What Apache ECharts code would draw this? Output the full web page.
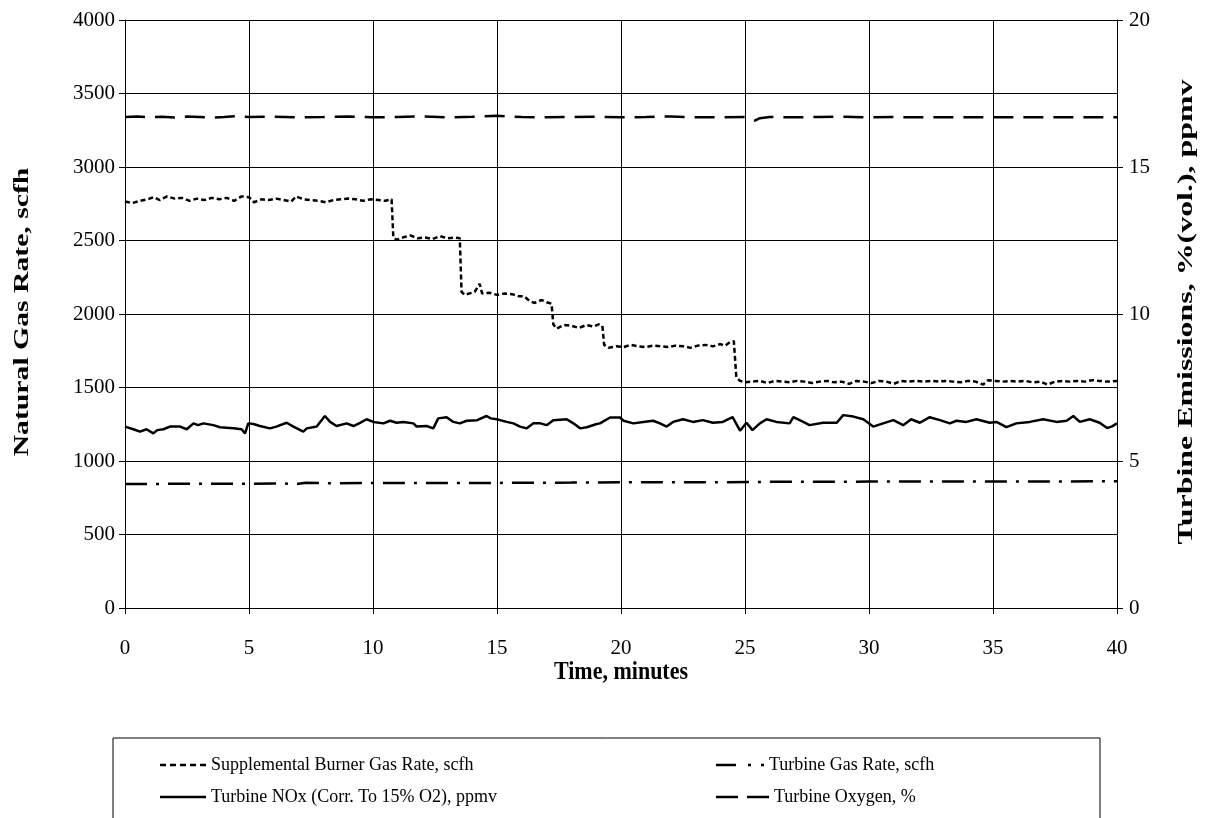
<!DOCTYPE html>
<html>
<head>
<meta charset="utf-8">
<script src="https://cdn.jsdelivr.net/npm/echarts@6/dist/echarts.min.js"></script>
<style>
  html, body { margin: 0; padding: 0; background: #fff; }
  #chart1 { width: 1206px; height: 818px; }
</style>
</head>
<body>
<div id="chart1"></div>
<script>
// series names
var names = [
    "Supplemental Burner Gas Rate, scfh",
    "Turbine Gas Rate, scfh",
    "Turbine NOx (Corr. To 15% O2), ppmv",
    "Turbine Oxygen, %"
]

// supplemental burner gas rate, scfh (left axis)
var burnerTime = [0, 0.3, 0.6, 0.9, 1.15, 1.4, 1.7, 2.0, 2.3, 2.6, 2.9, 3.2, 3.5, 3.8, 4.1, 4.4, 4.7, 5.0, 5.2, 5.5,
    5.8, 6.1, 6.4, 6.7, 6.9, 7.2, 7.5, 7.8, 8.1, 8.4, 8.7, 9.0, 9.3, 9.6, 9.9, 10.2, 10.5, 10.75,
    10.82, 10.95, 11.2, 11.5, 11.8, 12.1, 12.4, 12.7, 13.0, 13.3, 13.5,
    13.57, 13.7, 13.9, 14.1, 14.3, 14.4, 14.7, 15.0, 15.3, 15.6, 15.9, 16.1, 16.3, 16.5, 16.8, 17.0, 17.2,
    17.27, 17.4, 17.7, 18.0, 18.3, 18.6, 18.9, 19.1, 19.25,
    19.32, 19.5, 19.8, 20.1, 20.4, 20.7, 21.0, 21.3, 21.6, 21.9, 22.2, 22.5, 22.8, 23.1, 23.4, 23.7, 24.0, 24.2, 24.4, 24.55,
    24.65, 24.8, 25.0, 25.3, 25.6, 25.9, 26.2, 26.5, 26.8, 27.1, 27.4, 27.7, 28.0, 28.3, 28.6, 28.9, 29.2, 29.5, 29.8,
    30.1, 30.4, 30.7, 31.0, 31.3, 31.6, 31.9, 32.2, 32.5, 32.8, 33.1, 33.4, 33.7, 34.0, 34.3, 34.6, 34.8, 35.1, 35.4,
    35.7, 36.0, 36.3, 36.6, 36.9, 37.2, 37.5, 37.8, 38.1, 38.4, 38.7, 39.0, 39.3, 39.6, 40]
var burnerRate = [2765, 2755, 2770, 2780, 2795, 2775, 2800, 2785, 2790, 2770, 2785, 2775, 2790, 2780, 2790, 2770, 2800, 2795, 2760, 2780,
    2775, 2785, 2775, 2765, 2800, 2780, 2775, 2770, 2760, 2775, 2780, 2785, 2780, 2770, 2780, 2775, 2770, 2780,
    2520, 2505, 2520, 2535, 2515, 2520, 2510, 2530, 2515, 2520, 2515,
    2150, 2130, 2140, 2150, 2205, 2140, 2145, 2130, 2140, 2135, 2120, 2120, 2090, 2075, 2095, 2080, 2070,
    1930, 1900, 1925, 1920, 1905, 1925, 1915, 1930, 1920,
    1790, 1770, 1780, 1775, 1790, 1780, 1775, 1785, 1780, 1775, 1785, 1780, 1770, 1785, 1790, 1780, 1795, 1785, 1810, 1815,
    1570, 1545, 1535, 1540, 1545, 1530, 1545, 1540, 1535, 1545, 1540, 1530, 1540, 1545, 1535, 1540, 1525, 1545, 1540,
    1530, 1545, 1540, 1525, 1545, 1540, 1545, 1540, 1545, 1540, 1545, 1540, 1535, 1545, 1540, 1520, 1550, 1545, 1540,
    1545, 1540, 1545, 1535, 1540, 1520, 1540, 1545, 1540, 1545, 1540, 1550, 1545, 1540, 1545]

// turbine gas rate, scfh (left axis)
var turbineTime = [0, 2, 4, 5, 6, 7, 7.3, 8, 10, 12, 14, 16, 18, 20, 22, 24, 26, 28, 30, 32, 34, 36, 38, 40]
var turbineRate = [843, 845, 846, 845, 847, 845, 852, 849, 850, 851, 850, 852, 853, 855, 856, 856, 858, 858, 860, 860, 861, 860, 861, 862]

// turbine NOx, ppmv (right axis)
var noxTime = [0, 0.34, 0.6, 0.87, 1.14, 1.3, 1.55, 1.81, 2.22, 2.49, 2.76, 2.95, 3.16, 3.56, 3.83, 4.37, 4.7, 4.84, 4.97,
    5.18, 5.44, 5.85, 6.1, 6.52, 6.79, 7.19, 7.33, 7.73, 8.06, 8.27, 8.53, 8.94, 9.21, 9.48, 9.74, 10.01, 10.42,
    10.69, 10.95, 11.22, 11.63, 11.76, 12.16, 12.43, 12.63, 12.97, 13.24, 13.5, 13.78, 14.2, 14.58, 14.75, 14.99,
    15.39, 15.66, 15.93, 16.2, 16.47, 16.75, 17.0, 17.27, 17.81, 18.08, 18.35, 18.62, 19.02, 19.15, 19.56, 19.96,
    20.1, 20.5, 20.9, 21.3, 21.57, 21.84, 22.1, 22.5, 22.9, 23.3, 23.7, 24.1, 24.5, 24.8, 25.06, 25.3, 25.6, 25.87,
    26.27, 26.8, 26.95, 27.35, 27.6, 28.15, 28.7, 28.96, 29.37, 29.77, 30.17, 30.57, 30.98, 31.38, 31.7, 32.05,
    32.45, 32.86, 33.26, 33.53, 33.93, 34.33, 34.87, 35.14, 35.54, 35.94, 36.48, 37.02, 37.56, 37.97, 38.24, 38.5,
    38.9, 39.3, 39.6, 39.8, 40]
var noxPpmv = [6.17, 6.08, 6.0, 6.08, 5.94, 6.05, 6.08, 6.17, 6.17, 6.08, 6.28, 6.22, 6.28, 6.22, 6.15, 6.11, 6.08, 5.94, 6.28,
    6.26, 6.19, 6.11, 6.17, 6.30, 6.17, 6.00, 6.11, 6.17, 6.53, 6.33, 6.19, 6.28, 6.19, 6.30, 6.42, 6.33, 6.28,
    6.37, 6.30, 6.33, 6.28, 6.17, 6.19, 6.11, 6.45, 6.49, 6.33, 6.28, 6.37, 6.39, 6.53, 6.45, 6.42,
    6.33, 6.28, 6.17, 6.11, 6.28, 6.28, 6.22, 6.39, 6.42, 6.28, 6.11, 6.15, 6.26, 6.28, 6.48, 6.48,
    6.37, 6.28, 6.33, 6.37, 6.28, 6.17, 6.33, 6.42, 6.33, 6.39, 6.30, 6.33, 6.49, 6.03, 6.30, 6.05, 6.28, 6.42,
    6.33, 6.28, 6.49, 6.33, 6.22, 6.30, 6.30, 6.56, 6.51, 6.42, 6.17, 6.28, 6.39, 6.22, 6.42, 6.30,
    6.49, 6.39, 6.28, 6.37, 6.33, 6.42, 6.30, 6.33, 6.15, 6.28, 6.33, 6.42, 6.33, 6.37, 6.53, 6.33,
    6.42, 6.30, 6.12, 6.18, 6.28]

// turbine oxygen, % (right axis)
var oxygenTime = [0, 0.5, 1, 1.5, 2, 2.5, 3, 3.5, 4, 4.5, 5, 6, 7, 8, 9, 10, 11, 12, 13, 14, 15, 16, 17, 18, 19, 20,
    21, 22, 23, 24, 25, 25.4, 25.6, 26, 27, 28, 29, 30, 31, 32, 33, 34, 35, 36, 37, 38, 39, 40]
var oxygenPct = [16.70, 16.72, 16.69, 16.71, 16.68, 16.72, 16.70, 16.68, 16.70, 16.73, 16.70, 16.71, 16.69, 16.70, 16.72,
    16.69, 16.70, 16.72, 16.69, 16.71, 16.74, 16.70, 16.69, 16.70, 16.71, 16.69, 16.70, 16.72, 16.69, 16.69, 16.70,
    16.58, 16.66, 16.70, 16.69, 16.70, 16.71, 16.69, 16.70, 16.69, 16.69, 16.69, 16.69, 16.69, 16.69, 16.69, 16.69, 16.69]

function pairs(ts, vs) {
    return ts.map(function (t, i) { return [t, vs[i]] })
}

var serif = "Liberation Serif"

var chart1 = echarts.init(document.querySelector("#chart1"))

var legendIcons = [
    "path://M0,0h6v2.4h-6zM10,0h6v2.4h-6zM20,0h6v2.4h-6zM30,0h6v2.4h-6zM40,0h6v2.4h-6z",
    "path://M0,0h20v2.4h-20zM32,0h3v2.4h-3zM45,0h3v2.4h-3z",
    "path://M0,0h46v2.4h-46z",
    "path://M0,0h22v2.4h-22zM31,0h22v2.4h-22z"
]
var legendPos = [[160, 756, 46], [716, 756, 48], [160, 788, 46], [716, 788, 53]]

var plain = function (v) { return String(v) }

var chart1Option = {
    animation: false,
    backgroundColor: "#fff",
    grid: { left: 125, right: 89, top: 20, bottom: 210, show: false },
    legend: names.map(function (n, i) {
        return {
            data: [{ name: n, icon: legendIcons[i] }],
            left: legendPos[i][0],
            top: legendPos[i][1],
            padding: 0,
            itemWidth: legendPos[i][2],
            itemHeight: 2.4,
            itemGap: 0,
            selectedMode: false,
            itemStyle: { color: "#000", borderWidth: 0 },
            textStyle: { fontFamily: serif, fontSize: 18, color: "#000" }
        }
    }),
    xAxis: {
        type: "value",
        min: 0,
        max: 40,
        interval: 5,
        axisLine: { show: true, lineStyle: { color: "#000", width: 1 } },
        axisTick: { show: true, inside: false, length: 6, lineStyle: { color: "#000" } },
        axisLabel: { margin: 30, fontFamily: serif, fontSize: 21, color: "#000", formatter: plain },
        splitLine: { show: true, lineStyle: { color: "#000", width: 1 } }
    },
    yAxis: [{
        type: "value",
        min: 0,
        max: 4000,
        interval: 500,
        axisLine: { show: true, lineStyle: { color: "#000", width: 1 } },
        axisTick: { show: true, inside: false, length: 6, lineStyle: { color: "#000" } },
        axisLabel: { margin: 10, fontFamily: serif, fontSize: 21, color: "#000", formatter: plain },
        splitLine: { show: true, lineStyle: { color: "#000", width: 1 } }
    }, {
        type: "value",
        position: "right",
        min: 0,
        max: 20,
        interval: 5,
        axisLine: { show: true, lineStyle: { color: "#000", width: 1 } },
        axisTick: { show: true, inside: false, length: 6, lineStyle: { color: "#000" } },
        axisLabel: { margin: 12, fontFamily: serif, fontSize: 21, color: "#000", formatter: plain },
        splitLine: { show: false }
    }],
    graphic: [{
        type: "rect",
        shape: { x: 113, y: 738, width: 987, height: 100 },
        style: { fill: "none", stroke: "#000", lineWidth: 1 }
    }, {
        type: "text",
        x: 621, y: 673,
        scaleY: 1.12,
        style: { text: "Time, minutes", font: "bold 22px " + serif, fill: "#000", align: "center", verticalAlign: "middle" }
    }, {
        type: "text",
        x: 22, y: 312,
        rotation: Math.PI / 2,
        scaleX: 1.35,
        style: { text: "Natural Gas Rate, scfh", font: "bold 22px " + serif, fill: "#000", align: "center", verticalAlign: "middle" }
    }, {
        type: "text",
        x: 1186, y: 312,
        rotation: Math.PI / 2,
        scaleX: 1.45,
        style: { text: "Turbine Emissions, %(vol.), ppmv", font: "bold 22px " + serif, fill: "#000", align: "center", verticalAlign: "middle" }
    }],
    series: [{
        name: names[0],
        type: "line",
        yAxisIndex: 0,
        symbol: "none",
        data: pairs(burnerTime, burnerRate),
        lineStyle: { color: "#000", width: 2.5, type: [5, 3] },
        itemStyle: { color: "#000" }
    }, {
        name: names[1],
        type: "line",
        yAxisIndex: 0,
        symbol: "none",
        data: pairs(turbineTime, turbineRate),
        lineStyle: { color: "#000", width: 2.5, type: [22, 9, 3, 9] },
        itemStyle: { color: "#000" }
    }, {
        name: names[2],
        type: "line",
        yAxisIndex: 1,
        symbol: "none",
        data: pairs(noxTime, noxPpmv),
        lineStyle: { color: "#000", width: 2.5 },
        itemStyle: { color: "#000" }
    }, {
        name: names[3],
        type: "line",
        yAxisIndex: 1,
        symbol: "none",
        data: pairs(oxygenTime, oxygenPct),
        lineStyle: { color: "#000", width: 2.5, type: [20, 10] },
        itemStyle: { color: "#000" }
    }]
}

chart1.setOption(chart1Option)
</script>
</body>
</html>
